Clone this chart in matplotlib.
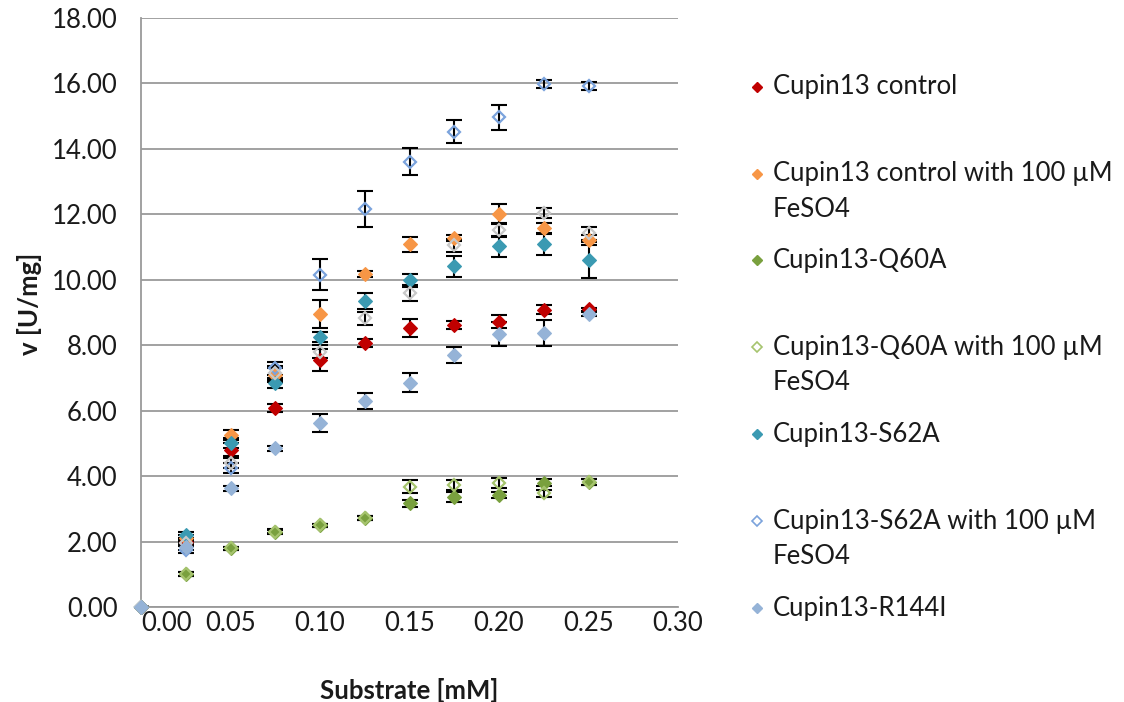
import matplotlib
matplotlib.use("Agg")
import matplotlib.pyplot as plt
from matplotlib.lines import Line2D

plt.rcParams['font.family'] = ['Lato', 'DejaVu Sans']

substrate = [0.0, 0.025, 0.05, 0.075, 0.1, 0.125, 0.15, 0.175, 0.2, 0.225, 0.25]

control_v = [0, 2.0, 4.80, 6.07, 7.55, 8.08, 8.52, 8.62, 8.72, 9.08, 9.10]
control_err = [0, 0.10, 0.20, 0.12, 0.33, 0.12, 0.27, 0.12, 0.20, 0.14, 0.05]

control_fe_v = [0, 2.1, 5.26, 7.09, 8.95, 10.17, 11.09, 11.27, 12.01, 11.57, 11.22]
control_fe_err = [0, 0.10, 0.15, 0.20, 0.42, 0.10, 0.23, 0.10, 0.30, 0.15, 0.15]

q60a_v = [0, 1.01, 1.79, 2.30, 2.50, 2.72, 3.17, 3.37, 3.42, 3.80, 3.82]
q60a_err = [0, 0.05, 0.05, 0.08, 0.05, 0.05, 0.10, 0.15, 0.10, 0.10, 0.08]

q60a_fe_v = [0, 1.01, 1.79, 2.30, 2.50, 2.72, 3.68, 3.73, 3.78, 3.47, 3.82]
q60a_fe_err = [0, 0.05, 0.05, 0.05, 0.05, 0.05, 0.20, 0.15, 0.15, 0.10, 0.10]

s62a_v = [0, 2.2, 5.00, 6.84, 8.24, 9.36, 9.99, 10.42, 11.03, 11.09, 10.60]
s62a_err = [0, 0.10, 0.15, 0.15, 0.15, 0.25, 0.20, 0.32, 0.32, 0.32, 0.55]

s62a_fe_v = [0, 1.75, 4.24, 7.30, 10.15, 12.17, 13.61, 14.53, 14.96, 15.98, 15.92]
s62a_fe_err = [0, 0.10, 0.15, 0.20, 0.47, 0.55, 0.42, 0.34, 0.37, 0.12, 0.12]

r144i_v = [0, 1.84, 3.63, 4.85, 5.63, 6.30, 6.86, 7.70, 8.34, 8.38, 8.95]
r144i_err = [0, 0.10, 0.08, 0.08, 0.27, 0.24, 0.30, 0.25, 0.36, 0.40, 0.05]

r144i_fe_v = [0, 1.95, 4.39, 7.15, 7.80, 8.82, 9.59, 11.06, 11.52, 12.03, 11.42]
r144i_fe_err = [0, 0.10, 0.15, 0.20, 0.20, 0.20, 0.24, 0.20, 0.20, 0.15, 0.20]

x_ticks = [0.00, 0.05, 0.10, 0.15, 0.20, 0.25, 0.30]
y_ticks = [0, 2, 4, 6, 8, 10, 12, 14, 16, 18]

labels = [
    "Cupin13 control",
    "Cupin13 control with 100 µM\nFeSO4",
    "Cupin13-Q60A",
    "Cupin13-Q60A with 100 µM\nFeSO4",
    "Cupin13-S62A",
    "Cupin13-S62A with 100 µM\nFeSO4",
    "Cupin13-R144I",
]

# (values, errors, colour, filled, legend label or None), in drawing order
series = [
    (control_v, control_err, "#C00000", True, labels[0]),
    (control_fe_v, control_fe_err, "#F79646", True, labels[1]),
    (q60a_v, q60a_err, "#79A03E", True, labels[2]),
    (q60a_fe_v, q60a_fe_err, "#A6C46E", False, labels[3]),
    (s62a_v, s62a_err, "#3B9AB2", True, labels[4]),
    (s62a_fe_v, s62a_fe_err, "#7BA3DC", False, labels[5]),
    (r144i_fe_v, r144i_fe_err, "#C8C8C8", False, None),
    (r144i_v, r144i_err, "#95B3D7", True, labels[6]),
]

W, H = 1124, 702
fig = plt.figure(figsize=(W / 100, H / 100), dpi=100)
left, right, top, bottom = 141, 678, 18, 607
ax = fig.add_axes([left / W, 1 - bottom / H, (right - left) / W, (bottom - top) / H])

text_color = "#1a1a1a"
grid_color = "#9a9a9a"
fs = 18.5
ms = 7.3

for vals, errs, col, filled, lab in series:
    ax.errorbar(substrate, vals, yerr=errs, fmt="none", ecolor="black",
                elinewidth=1.5, capsize=5.8, capthick=1.5, zorder=3)
    if filled:
        ax.plot(substrate, vals, linestyle="none", marker="D", markersize=ms,
                markerfacecolor=col, markeredgecolor=col, markeredgewidth=0.8,
                zorder=4, clip_on=False)
    else:
        ax.plot(substrate, vals, linestyle="none", marker="D", markersize=ms - 0.8,
                markerfacecolor="none", markeredgecolor=col, markeredgewidth=1.6,
                zorder=4, clip_on=False)

ax.set_xlim(0, 0.30)
ax.set_ylim(0, 18)
ax.set_xticks(x_ticks, [f"{v:.2f}" for v in x_ticks])
ax.set_yticks(y_ticks, [f"{v:.2f}" for v in y_ticks])
ax.get_xticklabels()[0].set_horizontalalignment("left")
ax.grid(axis="y", color=grid_color, linewidth=1.3)
ax.set_axisbelow(True)
for s in ["top", "right"]:
    ax.spines[s].set_visible(False)
for s in ["left", "bottom"]:
    ax.spines[s].set_color(grid_color)
    ax.spines[s].set_linewidth(1.3)
ax.tick_params(axis="both", length=0, labelsize=fs, colors=text_color)
ax.tick_params(axis="y", pad=17)
ax.tick_params(axis="x", pad=3)

ax.set_xlabel("Substrate [mM]", fontsize=fs, fontweight="bold", color=text_color,
              va="center")
ax.set_ylabel("v [U/mg]", fontsize=fs, fontweight="bold", color=text_color,
              va="center")
ax.xaxis.set_label_coords(0.5, -0.141)
ax.yaxis.set_label_coords(-0.207, 0.515)

# legend drawn as a column of marker + label entries
entry_top = 86.7
entry_step = 86.9
line_gap = 35.5
marker_x = 757
text_x = 773
legend_series = [s for s in series if s[4] is not None]
for i, (vals, errs, col, filled, lab) in enumerate(legend_series):
    py = entry_top + i * entry_step
    if filled:
        mk = Line2D([marker_x / W], [1 - py / H], transform=fig.transFigure,
                    linestyle="none", marker="D", markersize=5.4,
                    markerfacecolor=col, markeredgecolor=col)
    else:
        mk = Line2D([marker_x / W], [1 - py / H], transform=fig.transFigure,
                    linestyle="none", marker="D", markersize=4.8,
                    markerfacecolor="none", markeredgecolor=col, markeredgewidth=1.2)
    fig.add_artist(mk)
    for j, line in enumerate(lab.split("\n")):
        fig.text(text_x / W, 1 - (py + j * line_gap) / H, line, fontsize=fs,
                 color=text_color, ha="left", va="center")

fig.savefig("out.png", dpi=100, facecolor="white")
